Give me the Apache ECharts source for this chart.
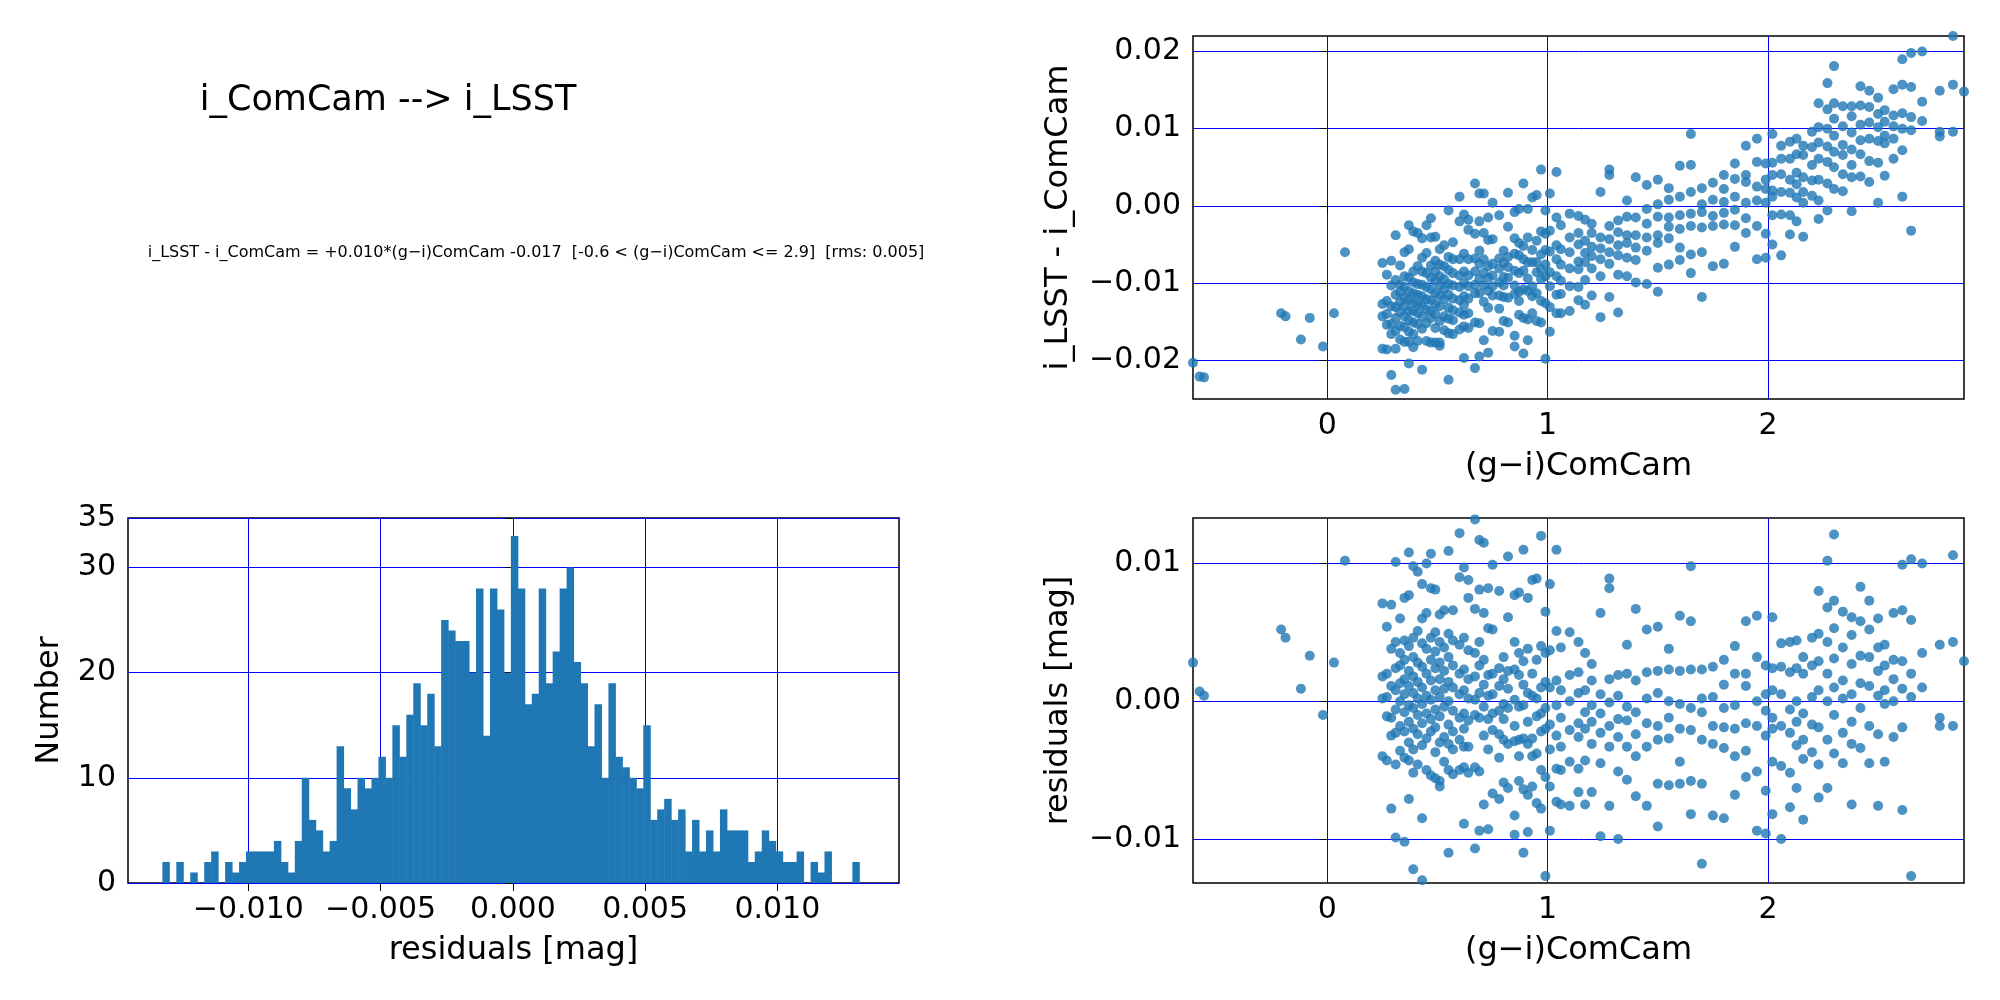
<!DOCTYPE html>
<html>
<head>
<meta charset="utf-8">
<script src="https://cdn.jsdelivr.net/npm/echarts@6/dist/echarts.min.js"></script>
<style>html,body{margin:0;padding:0;background:#fff}#main{width:2000px;height:1000px}</style>
</head>
<body>
<div id="main"></div>
<script>
// histogram of residuals: 100 bins
const binLo = -0.01325, binHi = 0.01310;
const counts = [2,0,2,0,1,0,2,3,0,2, 1,2,3,3,3,3,4,2,1,4, 10,6,5,3,4,13,9,7,10,9,
  10,12,10,15,12,16,19,15,18,13, 25,24,23,23,20,28,14,28,26,20, 33,28,17,18,28,19,22,28,30,21,
  19,13,17,10,19,12,11,10,9,15, 6,7,8,6,7,3,6,3,5,3, 7,5,5,5,2,3,5,4,3,2, 2,3,0,2,1,3,0,0,0,2];

// residuals (1e-3 mag) grouped by colour value
const colX = [-0.61,-0.58,-0.56,-0.21,-0.19,-0.12,-0.08,-0.02,0.03,0.08,
  0.25,0.27,0.29,0.31,0.33,0.35,0.37,0.39,0.41,0.43,0.45,0.47,0.49,0.51,0.53,0.55,0.57,0.60,0.62,0.64,
  0.67,0.69,0.71,0.73,0.75,0.78,0.80,0.82,0.85,0.87,0.89,0.91,0.93,0.95,0.97,0.99,1.01,1.04,1.06,1.10,
  1.14,1.17,1.20,1.24,1.28,1.32,1.36,1.40,1.45,1.50,1.55,1.60,1.65,1.70,1.75,1.80,1.85,1.90,1.95,1.99,
  2.02,2.06,2.10,2.13,2.16,2.20,2.23,2.27,2.30,2.34,2.38,2.42,2.46,2.50,2.53,2.57,2.61,2.65,2.70,2.78,2.84,2.89];
const colRes = [[2.8],[0.7],[0.4],[5.2],[4.6],[0.9],[3.3],[-1.0],[2.8],[10.2],
  [7.1,1.8,0.2,-4.0],[5.4,2.0,0.3,-1.1,-4.3],[7.0,3.8,1.1,-1.2,-2.5,-7.8],[10.1,4.3,2.4,0.8,-0.6,-2.3,-4.6,-9.9],
  [6.0,3.5,2.6,1.3,0.0,-1.8,-3.6],[7.5,4.4,3.0,1.6,0.5,-0.8,-2.2,-4.1,-10.2],[10.8,7.7,4.0,2.2,1.1,-0.3,-1.5,-3.0,-4.3,-7.1],
  [9.8,4.6,3.2,1.8,0.6,-0.5,-2.0,-3.5,-5.2,-12.2],[9.4,5.1,2.8,1.4,0.2,-1.0,-2.4,-4.6],[8.5,6.0,4.2,2.5,1.0,-0.2,-1.6,-3.2,-8.5,-13.0],
  [10.0,6.4,3.8,2.0,0.4,-0.9,-2.7,-5.0],[10.7,8.2,4.6,3.0,1.5,0.1,-1.3,-2.2,-5.4],[8.1,5.0,3.6,2.4,0.8,-0.6,-1.9,-3.7,-5.6],
  [6.3,4.3,2.8,1.6,0.3,-1.1,-3.0,-5.8,-6.2],[6.6,3.9,2.2,0.9,-0.4,-2.6,-4.4],[10.9,4.9,3.2,1.4,0.0,-1.7,-3.1,-5.0,-11.0],
  [6.6,4.4,2.6,1.0,-0.7,-2.2,-3.5,-5.3],[12.2,9.0,4.1,2.0,0.5,-1.2,-2.8,-5.0],[9.7,4.6,2.3,0.8,-0.9,-2.0,-3.3,-4.8,-8.9],
  [8.8,7.5,3.7,1.6,0.2,-1.4,-3.3,-5.2],[13.2,6.7,3.5,1.8,0.1,-1.0,-4.8,-10.7],[11.7,8.1,4.3,2.6,0.6,-1.2,-5.1,-9.4],
  [11.5,6.4,3.0,1.2,-0.4,-2.5,-7.5],[8.2,5.3,1.9,0.4,-1.3,-3.5,-9.3],[9.9,5.2,2.0,0.5,-0.9,-2.1,-6.7],
  [8.0,2.4,1.1,-0.7,-2.4,-4.1,-7.1],[3.2,1.6,-0.2,-1.3,-2.8,-5.9],[10.5,6.1,2.2,0.9,-0.5,-3.1,-6.3],
  [7.7,4.3,2.3,0.1,-1.8,-2.9,-8.3,-9.7],[7.9,3.5,1.9,-0.4,-2.8,-4.0,-5.8],[11.0,2.9,1.2,-0.3,-2.7,-6.4,-11.0],
  [7.5,3.8,0.6,-1.5,-3.1,-6.8,-9.5],[8.8,2.0,0.4,-2.7,-4.0,-6.2],[8.9,3.0,0.2,-1.1,-3.8,-7.4],
  [12.0,4.0,1.0,-0.9,-2.2,-5.0,-7.8],[6.5,3.5,1.4,-0.5,-2.0,-5.5,-12.7],[8.5,3.7,1.0,-1.7,-3.5,-6.2,-9.4],
  [11.0,5.1,1.5,-0.3,-2.5,-4.9,-7.3],[3.9,0.8,-1.2,-3.3,-5.0,-7.5],[5.0,1.9,0.0,-2.1,-4.4,-7.6],
  [4.3,2.1,0.6,-1.6,-2.6,-4.9,-6.6],[3.5,0.8,-0.8,-2.0,-4.3,-7.5],[2.7,1.5,-0.3,-1.5,-3.1,-6.6],
  [6.4,0.5,-0.9,-2.3,-4.5,-9.8],[8.9,8.2,1.6,-0.1,-1.8,-3.3,-7.6],[1.9,0.4,-1.3,-2.6,-5.1,-10.0],
  [4.1,2.0,-0.4,-1.4,-3.3,-5.7],[6.7,1.5,-0.8,-2.4,-4.0,-6.9],[5.2,2.1,0.2,-1.6,-3.3,-7.6],
  [5.4,2.2,0.6,-1.8,-2.8,-6.0,-9.1],[3.8,2.3,0.0,-1.2,-2.7,-6.1],[6.2,2.2,-0.2,-2.0,-4.4,-6.0],
  [9.8,5.8,2.3,-0.5,-2.1,-5.8,-8.2],[2.3,0.2,-0.8,-2.8,-6.0,-11.8],[2.5,0.3,-1.8,-3.1,-8.3],
  [3.0,1.2,-0.5,-1.9,-3.4,-8.5],[4.0,2.0,-0.3,-2.0,-4.0,-6.8],[5.8,2.0,1.1,-1.6,-3.6,-5.5],
  [6.2,3.2,0.0,-1.8,-5.1,-9.4],[2.6,0.5,-0.7,-2.5,-6.5,-9.6],[6.1,2.4,0.8,-1.2,-2.0,-4.4,-8.2],
  [4.2,2.5,0.5,-1.8,-4.7,-10.0],[4.3,2.1,-0.6,-2.3,-5.2,-7.7],[4.4,2.4,0.0,-1.5,-3.2,-6.3],
  [3.2,2.0,-0.9,-2.8,-4.2,-8.6],[4.6,2.6,0.3,-1.7,-3.7],[8.0,4.9,2.9,0.8,-1.9,-4.6,-7.0],
  [10.2,6.8,4.3,2.0,0.0,-2.8,-6.3],[12.1,7.3,5.3,3.1,1.0,-1.0,-3.8],[6.5,3.9,1.5,0.2,-2.3,-4.5],
  [6.1,4.8,2.7,0.5,-1.5,-3.1,-7.5],[8.3,5.8,3.3,1.3,-0.5,-3.4],[7.3,5.2,3.2,1.1,-1.8,-4.5],
  [6.0,3.9,2.2,0.4,-2.4,-7.6],[4.1,2.6,0.8,-0.2,-4.4],[6.4,3.0,1.6,0.0,-2.6],
  [9.9,6.6,2.9,0.9,-1.9,-7.9],[10.3,5.9,2.0,0.3,-12.7],[10.0,3.5,1.0],[4.1,-1.2,-1.8],[10.6,4.3,-1.8],[2.9]];

// fit: i_LSST - i_ComCam = 0.010*(g-i) - 0.017
const fitSlope = 0.010, fitZero = -0.017;

const resPts = [], magPts = [];
colX.forEach(function (x, i) {
  colRes[i].forEach(function (r) {
    resPts.push([x, r / 1000]);
    magPts.push([x, fitSlope * x + fitZero + r / 1000]);
  });
});
const hw = (binHi - binLo) / counts.length;
const histData = counts.map(function (c, i) { return [binLo + i * hw, binLo + (i + 1) * hw, c]; });

const fmt = function (d) { return function (v) { return v.toFixed(d).replace('-', '\u2212'); }; };
const font = 'DejaVu Sans';
const blueLine = { show: true, lineStyle: { color: '#0000ff', width: 1 } };

function xAxisOf(gi, min, max, ticks, d, name) {
  return {
    type: 'value', gridIndex: gi, min: min, max: max, name: name,
    nameLocation: 'middle', nameGap: 52, nameTextStyle: { fontSize: 32, color: '#000', fontFamily: font },
    axisLine: { show: false },
    axisTick: { show: true, customValues: ticks, length: 8, lineStyle: { color: '#000' } },
    axisLabel: { customValues: ticks, formatter: fmt(d), fontSize: 30, color: '#000', fontFamily: font, margin: 12 },
    splitLine: blueLine
  };
}
function yAxisOf(gi, min, max, ticks, d, name, interval) {
  const a = {
    type: 'value', gridIndex: gi, min: min, max: max, name: name,
    nameLocation: 'middle', nameGap: d === 0 ? 62 : 118,
    nameTextStyle: { fontSize: 32, color: '#000', fontFamily: font },
    axisLine: { show: false },
    axisTick: { show: true, length: 8, lineStyle: { color: '#000' } },
    axisLabel: { formatter: fmt(d), fontSize: 30, color: '#000', fontFamily: font, margin: 12 },
    splitLine: blueLine
  };
  if (ticks) { a.axisTick.customValues = ticks; a.axisLabel.customValues = ticks; }
  if (interval) a.interval = interval;
  return a;
}

const chart = echarts.init(document.getElementById('main'));
const gridBase = { show: true, borderColor: '#000', borderWidth: 1.5, backgroundColor: '#fff' };
chart.setOption({
  animation: false,
  title: [
    { text: 'i_ComCam --> i_LSST', left: 383, top: 78, textAlign: 'center',
      textStyle: { fontSize: 35, fontWeight: 'normal', color: '#000', fontFamily: font } },
    { text: 'i_LSST - i_ComCam = +0.010*(g\u2212i)ComCam -0.017  [-0.6 < (g\u2212i)ComCam <= 2.9]  [rms: 0.005]',
      left: 531, top: 240, textAlign: 'center',
      textStyle: { fontSize: 16, fontWeight: 'normal', color: '#000', fontFamily: font } }
  ],
  grid: [
    Object.assign({ left: 1193, top: 36, width: 771, height: 363 }, gridBase),
    Object.assign({ left: 1193, top: 518, width: 771, height: 365 }, gridBase),
    Object.assign({ left: 128, top: 518, width: 771, height: 365 }, gridBase)
  ],
  xAxis: [
    xAxisOf(0, -0.61, 2.89, [0, 1, 2], 0, '(g\u2212i)ComCam'),
    xAxisOf(1, -0.61, 2.89, [0, 1, 2], 0, '(g\u2212i)ComCam'),
    xAxisOf(2, -0.01455, 0.0146, [-0.01, -0.005, 0, 0.005, 0.01], 3, 'residuals [mag]')
  ],
  yAxis: [
    yAxisOf(0, -0.025, 0.022, [-0.02, -0.01, 0, 0.01, 0.02], 2, 'i_LSST - i_ComCam'),
    yAxisOf(1, -0.0132, 0.0133, [-0.01, 0, 0.01], 2, 'residuals [mag]'),
    yAxisOf(2, 0, 34.7, null, 0, 'Number', 10)
  ],
  series: [
    { type: 'scatter', xAxisIndex: 0, yAxisIndex: 0, data: magPts, symbolSize: 10,
      itemStyle: { color: '#1f77b4', opacity: 0.8 } },
    { type: 'scatter', xAxisIndex: 1, yAxisIndex: 1, data: resPts, symbolSize: 10,
      itemStyle: { color: '#1f77b4', opacity: 0.8 } },
    { type: 'custom', xAxisIndex: 2, yAxisIndex: 2, data: histData, z: 1,
      encode: { x: [0, 1], y: 2 },
      renderItem: function (params, api) {
        const p0 = api.coord([api.value(0), api.value(2)]);
        const p1 = api.coord([api.value(1), 0]);
        return { type: 'rect', shape: { x: p0[0], y: p0[1], width: p1[0] - p0[0] + 0.5, height: p1[1] - p0[1] },
          style: { fill: '#1f77b4' } };
      } }
  ]
});
</script>
</body>
</html>
